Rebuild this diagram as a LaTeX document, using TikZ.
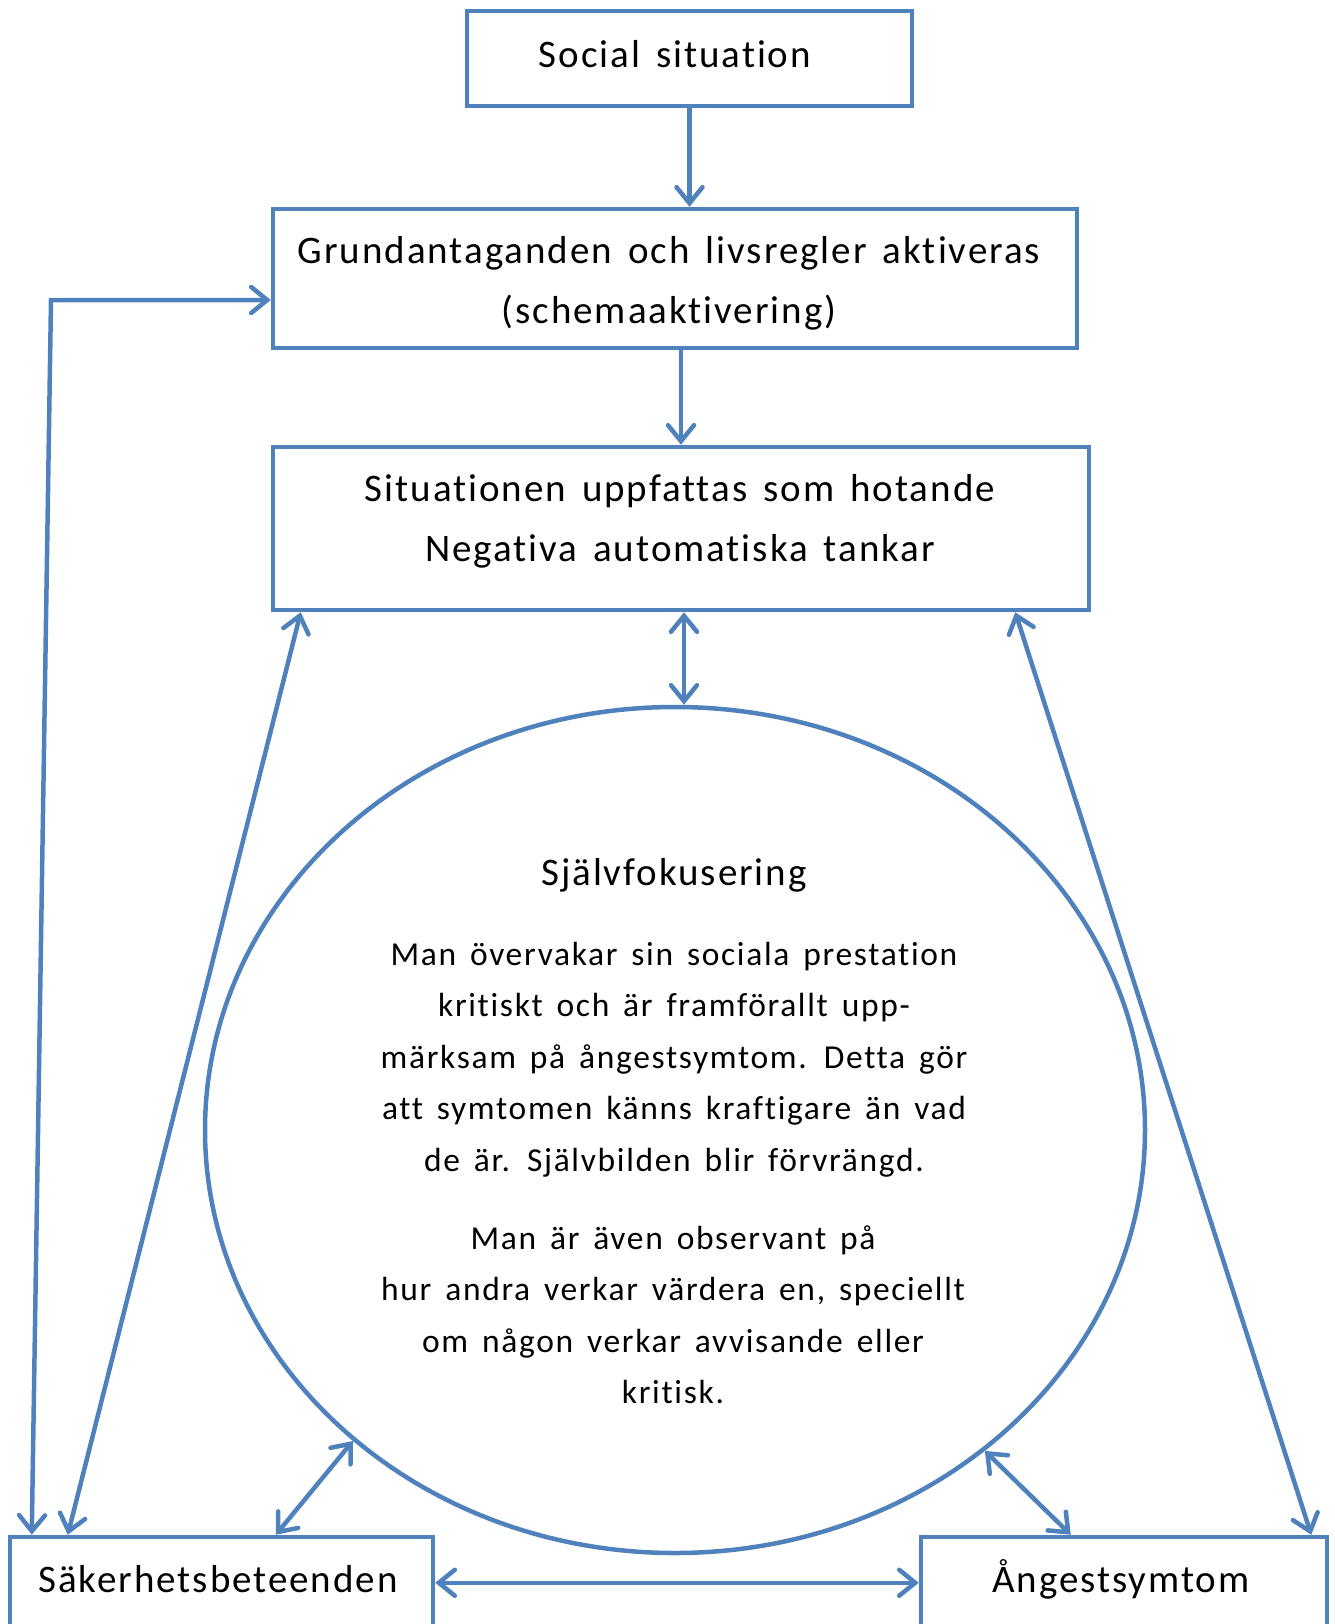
\documentclass[tikz,border=0pt]{standalone}
\usepackage{fontspec}
\setmainfont{Carlito}[LetterSpace=5,WordSpace=1.5,Ligatures=NoCommon]
\usetikzlibrary{arrows.meta,shapes.geometric}
\definecolor{ublue}{HTML}{4F81BD}
\tikzset{
  box/.style={draw=ublue, line width=4.5pt, rectangle, inner sep=0pt},
  tip/.tip={Straight Barb[length=16pt,width=26pt,line cap=round]},
  arr/.style={draw=ublue, line width=4.5pt, -tip},
  dbl/.style={draw=ublue, line width=4.5pt, tip-tip},
  big/.style={font=\fontsize{39}{60}\selectfont, inner sep=0pt, align=center},
  par/.style={font=\fontsize{33.5}{51.5}\selectfont, align=center, inner sep=0pt},
}
\begin{document}
\begin{tikzpicture}[x=1pt,y=-1pt]
\useasboundingbox (0,0) rectangle (1335,1624);
\clip (0,0) rectangle (1335,1624);
\node[box, minimum width=445pt, minimum height=95pt] (top) at (689.5,58.5) {};
\node[big] (toptxt) at (675,54) {Social situation};
\node[box, minimum width=804pt, minimum height=139pt] (second) at (675,278.5) {};
\node[big] (secondtxt) at (669,283) {Grundantaganden och livsregler aktiveras\\(schemaaktivering)};
\node[box, minimum width=816pt, minimum height=163pt] (third) at (681,528.5) {};
\node[big] (thirdtxt) at (680,521) {Situationen uppfattas som hotande\\Negativa automatiska tankar};
\node[draw=ublue, line width=4.5pt, ellipse, minimum width=940pt, minimum height=846pt, inner sep=0pt] (ell) at (675,1130) {};
\node[big] (title) at (674,875) {Självfokusering};
\node[par] (p1) at (674,1059.5) {Man övervakar sin sociala prestation\\kritiskt och är framförallt upp-\\märksam på ångestsymtom. Detta gör\\att symtomen känns kraftigare än vad\\de är. Självbilden blir förvrängd.};
\node[par] (p2) at (673,1314.5) {Man är även observant på\\hur andra verkar värdera en, speciellt\\om någon verkar avvisande eller\\kritisk.};
\node[box, minimum width=423pt, minimum height=123pt] (sak) at (221.5,1598.5) {};
\node[big] (saktxt) at (218,1579) {Säkerhetsbeteenden};
\node[box, minimum width=406pt, minimum height=123pt] (ang) at (1124,1598.5) {};
\node[big] (angtxt) at (1121,1579) {Ångestsymtom};
\coordinate (fbk) at (51,300);
% connectors
\draw[arr] (top.south) -- (top.south |- second.north);
\draw[arr] (third.north |- second.south) -- (third.north);
\draw[dbl] ([xshift=3pt]third.south) -- ([xshift=3pt]third.south |- ell.north);
\draw[dbl] ([xshift=24pt]sak.north west) -- (fbk) -- (second.west |- fbk);
\draw[dbl] ([xshift=60pt]sak.north west) -- ([xshift=30pt]third.south west);
\draw[dbl] ([xshift=-18pt]ang.north east) -- ([xshift=-76pt]third.south east);
\draw[dbl] (ell.224) -- ([xshift=268pt]sak.north west);
\draw[dbl] (ell.314) -- ([xshift=152pt]ang.north west);
\draw[dbl] ([yshift=-48pt]sak.north east) -- ([yshift=-48pt]ang.north west);
\end{tikzpicture}
\end{document}
